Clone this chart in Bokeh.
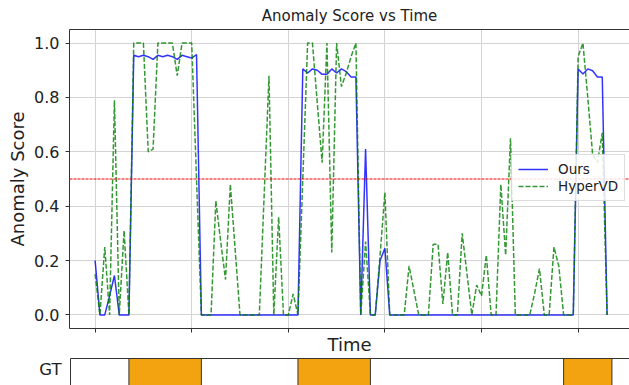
from bokeh.plotting import figure
from bokeh.models import (Range1d, Span, Legend, LegendItem, LinearAxis,
                          FixedTicker, PrintfTickFormatter, CustomLabelingPolicy)
from bokeh.layouts import column
from bokeh.embed import file_html
from bokeh.resources import INLINE

# ---------------- data ----------------
t = list(range(107))

ours = [
    0.20, 0.0, 0.0, 0.07, 0.145, 0.0, 0.0, 0.0,                         # 0-7
    0.955, 0.95, 0.955, 0.95, 0.94, 0.955, 0.95, 0.955, 0.95, 0.94,     # 8-17
    0.955, 0.95, 0.945, 0.958,                                          # 18-21
    0.0, 0.0, 0.0, 0.0, 0.0, 0.0, 0.0, 0.0, 0.0, 0.0,                   # 22-31
    0.0, 0.0, 0.0, 0.0, 0.0, 0.0, 0.0, 0.0, 0.0, 0.0, 0.0,              # 32-42
    0.905, 0.89, 0.905, 0.90, 0.885, 0.885, 0.905, 0.89, 0.905, 0.895,  # 43-52
    0.875, 0.875,                                                       # 53-54
    0.0, 0.61, 0.0, 0.0, 0.20, 0.245, 0.0,                              # 55-61
    0.0, 0.0, 0.0, 0.0, 0.0, 0.0, 0.0, 0.0, 0.0, 0.0,                   # 62-71
    0.0, 0.0, 0.0, 0.0, 0.0, 0.0, 0.0, 0.0, 0.0, 0.0,                   # 72-81
    0.0, 0.0, 0.0, 0.0, 0.0, 0.0, 0.0, 0.0, 0.0, 0.0,                   # 82-91
    0.0, 0.0, 0.0, 0.0, 0.0, 0.0, 0.0, 0.0,                             # 92-99
    0.905, 0.886, 0.905, 0.898, 0.875, 0.875, 0.0,                      # 100-106
]

hypervd = [
    0.15, 0.0, 0.25, 0.0, 0.79, 0.0, 0.31, 0.0,                         # 0-7
    1.0, 1.0, 1.0, 0.60, 0.61, 1.0, 1.0, 1.0, 1.0, 0.88,                # 8-17
    1.0, 1.0, 1.0, 0.50,                                                # 18-21
    0.0, 0.0, 0.0, 0.42, 0.27, 0.13, 0.48, 0.24, 0.0, 0.0,              # 22-31
    0.0, 0.0, 0.0, 0.44, 0.88, 0.0, 0.36, 0.0, 0.0, 0.077, 0.0,         # 32-42
    0.50, 1.0, 1.0, 0.78, 0.56, 1.0, 0.23, 1.0, 0.84, 0.89,             # 43-52
    0.95, 1.0,                                                          # 53-54
    0.0, 0.27, 0.0, 0.0, 0.22, 0.45, 0.0,                               # 55-61
    0.0, 0.0, 0.0, 0.18, 0.09, 0.0, 0.0, 0.0, 0.26, 0.26,               # 62-71
    0.04, 0.23, 0.0, 0.0, 0.30, 0.15, 0.0, 0.11, 0.07, 0.22,            # 72-81
    0.0, 0.0, 0.48, 0.22, 0.65, 0.0, 0.0, 0.0, 0.0, 0.08,               # 82-91
    0.17, 0.0, 0.0, 0.25, 0.18, 0.0, 0.0, 0.0,                          # 92-99
    0.95, 1.0, 0.80, 0.59, 0.56, 0.67, 0.0,                             # 100-106
]

gt_start = [7, 42, 97]
gt_end = [22, 57, 107]

y_ticks = [0.0, 0.2, 0.4, 0.6, 0.8, 1.0]
x_ticks = [0, 20, 40, 60, 80, 100]
threshold = 0.5
series_labels = ["Ours", "HyperVD"]
gt_label = "GT"

FONT = "DejaVu Sans"
TXT = "#222222"
SPINE = "#333333"
GRID = "#d3d3d3"

# ---------------- main plot ----------------
xr = Range1d(-5.3, 110.64)
p = figure(width=629, height=357, x_range=xr, y_range=Range1d(-0.05, 1.05),
           output_backend="svg", toolbar_location=None,
           min_border_left=69, min_border_right=0, min_border_top=28,
           min_border_bottom=28, title="Anomaly Score vs Time")
p.outline_line_color = None
p.background_fill_color = "white"

p.title.text_font = FONT
p.title.text_font_size = "15px"
p.title.text_font_style = "normal"
p.title.text_color = TXT
p.title.align = "center"
p.title.text_line_height = 1.0
p.title.standoff = 9
p.title.offset = 6

# grid
p.xgrid.ticker = FixedTicker(ticks=x_ticks)
p.ygrid.ticker = FixedTicker(ticks=y_ticks)
for gr in (p.xgrid, p.ygrid):
    gr.grid_line_color = GRID
    gr.grid_line_width = 1

# x axis (tick marks only, no tick labels)
xa = p.xaxis[0]
xa.ticker = FixedTicker(ticks=x_ticks)
xa.major_label_policy = CustomLabelingPolicy(code="")
xa.major_label_text_font_size = "1px"
xa.major_label_standoff = 0
xa.major_tick_out = 4
xa.major_tick_in = 0
xa.minor_tick_line_color = None
xa.axis_line_color = SPINE
xa.major_tick_line_color = SPINE
xa.axis_label = "Time"
xa.axis_label_text_font = FONT
xa.axis_label_text_font_size = "18px"
xa.axis_label_text_font_style = "normal"
xa.axis_label_text_color = TXT
xa.axis_label_standoff = -3

# y axis
ya = p.yaxis[0]
ya.ticker = FixedTicker(ticks=y_ticks)
ya.formatter = PrintfTickFormatter(format="%.1f")
ya.major_label_text_font = FONT
ya.major_label_text_font_size = "16px"
ya.major_label_text_color = TXT
ya.major_label_standoff = 6
ya.major_tick_out = 4
ya.major_tick_in = 0
ya.minor_tick_line_color = None
ya.axis_line_color = SPINE
ya.major_tick_line_color = SPINE
ya.axis_label = "Anomaly Score"
ya.axis_label_text_font = FONT
ya.axis_label_text_font_size = "18px"
ya.axis_label_text_font_style = "normal"
ya.axis_label_text_color = TXT
ya.axis_label_standoff = 3

# top spine
top = LinearAxis(ticker=FixedTicker(ticks=[]), major_label_text_font_size="1px",
                 major_label_standoff=0, major_tick_out=0, major_tick_in=0,
                 minor_tick_out=0, minor_tick_in=0, axis_line_color=SPINE)
p.add_layout(top, "above")

# threshold
thr = Span(location=threshold, dimension="width", line_color="#ee0000",
           line_width=1, line_dash="3 1")
p.add_layout(thr)

r1 = p.line(t, ours, line_color="blue", line_alpha=0.8, line_width=1.5)
r2 = p.line(t, hypervd, line_color="green", line_alpha=0.8, line_width=1.5,
            line_dash="5 2")

legend = Legend(items=[LegendItem(label=series_labels[0], renderers=[r1]),
                       LegendItem(label=series_labels[1], renderers=[r2])],
                location=(442, 127), padding=6, spacing=1, margin=0,
                glyph_width=30, glyph_height=16, label_height=16,
                label_standoff=10, label_text_font=FONT,
                label_text_font_size="13.5px", label_text_color=TXT,
                border_line_color="#bbbbbb", border_line_width=1,
                background_fill_color="white", background_fill_alpha=0.85)
p.add_layout(legend)

# ---------------- GT strip ----------------
g = figure(width=629, height=28, x_range=xr, y_range=Range1d(-16, 12),
           output_backend="svg", toolbar_location=None, x_axis_location=None,
           min_border_left=69, min_border_right=0, min_border_top=0,
           min_border_bottom=0)
g.outline_line_color = None
g.xgrid.visible = False
g.ygrid.visible = False
g.quad(left=[-5.09], right=[200], top=[11], bottom=[-40],
       fill_color="white", line_color=SPINE, line_width=1)
g.quad(left=gt_start, right=gt_end, top=11, bottom=-40,
       fill_color="#f2a30f", line_color=SPINE, line_width=1)
gy = g.yaxis[0]
gy.ticker = FixedTicker(ticks=[0])
gy.major_label_overrides = {0: gt_label}
gy.major_label_text_font = FONT
gy.major_label_text_font_size = "16.5px"
gy.major_label_text_color = TXT
gy.major_label_standoff = 8
gy.major_tick_out = 0
gy.major_tick_in = 0
gy.major_tick_line_color = None
gy.minor_tick_line_color = None
gy.axis_line_color = None

layout = column(p, g, spacing=0)

with open("out.html", "w") as f:
    f.write(file_html(layout, INLINE))
